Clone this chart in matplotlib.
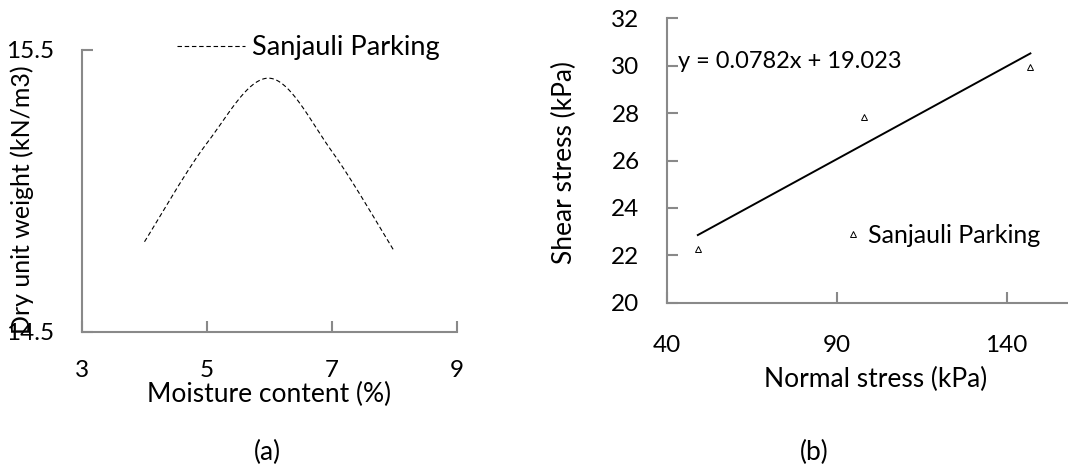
import numpy as np
import matplotlib
matplotlib.use("Agg")
import matplotlib.pyplot as plt

plt.rcParams['font.family'] = ['Lato', 'DejaVu Sans']

# Compaction curve (a)
moisture = [4, 5, 6, 7, 8]
dry_unit_weight = [14.82, 15.17, 15.40, 15.14, 14.785]

# Direct shear results (b)
normal_stress = [49, 98, 147]
shear_stress = [22.28, 27.84, 29.94]
fit_slope = 0.0782
fit_intercept = 19.023

series_name = "Sanjauli Parking"

W, H = 1068, 474
fig = plt.figure(figsize=(W / 100, H / 100), dpi=100)

AX_GREY = "#898989"
TICK_FS = 17.5
LABEL_FS = 19


def smooth_curve(xs, ys, n=40):
    """Bezier smoothing through the points, as spreadsheet 'smoothed lines' do."""
    p = np.column_stack([xs, ys]).astype(float)
    ext = np.vstack([p[0], p, p[-1]])
    out = []
    t = np.linspace(0, 1, n)[:, None]
    for i in range(len(p) - 1):
        p0, p1 = ext[i + 1], ext[i + 2]
        c1 = p0 + (ext[i + 2] - ext[i]) / 6.0
        c2 = p1 - (ext[i + 3] - ext[i + 1]) / 6.0
        seg = ((1 - t) ** 3) * p0 + 3 * ((1 - t) ** 2) * t * c1 + 3 * (1 - t) * t ** 2 * c2 + t ** 3 * p1
        out.append(seg if i == 0 else seg[1:])
    out = np.vstack(out)
    return out[:, 0], out[:, 1]


def style_axes(ax, xpad, ypad):
    for side in ("top", "right"):
        ax.spines[side].set_visible(False)
    for side in ("left", "bottom"):
        ax.spines[side].set_color(AX_GREY)
        ax.spines[side].set_linewidth(1.5)
    ax.tick_params(direction="in", length=8, width=1.5, color=AX_GREY,
                   labelsize=TICK_FS, labelcolor="black")
    ax.tick_params(axis="x", pad=xpad)
    ax.tick_params(axis="y", pad=ypad)


def fig_xy(px, py):
    return px / W, 1 - py / H


# ---- (a) compaction curve ----
axa = fig.add_axes([82 / W, 1 - 332 / H, 375 / W, 282 / H])
style_axes(axa, xpad=20, ypad=20)
cx, cy = smooth_curve(moisture, dry_unit_weight)
axa.plot(cx, cy, color="black", lw=0.8, ls=(0, (4, 2.5)), label=series_name)
axa.set_xlim(3, 9)
axa.set_ylim(14.5, 15.5)
axa.set_xticks([3, 5, 7, 9])
axa.set_yticks([14.5, 15.5])
axa.set_yticklabels(["14.5", "15.5"])
axa.set_xlabel("Moisture content (%)", fontsize=LABEL_FS, va="top")
axa.xaxis.set_label_coords(*fig_xy(269, 382), transform=fig.transFigure)
axa.set_ylabel("Dry unit weight (kN/m3)", fontsize=18)
axa.yaxis.set_label_coords(*fig_xy(34, 200), transform=fig.transFigure)
axa.legend(loc="center left", bbox_to_anchor=fig_xy(177, 48),
           bbox_transform=fig.transFigure, frameon=False, fontsize=19.5,
           borderpad=0, borderaxespad=0, handlelength=2.5, handletextpad=0.26)

# ---- (b) shear strength envelope ----
axb = fig.add_axes([667.3 / W, 1 - 302.7 / H, 407.2 / W, 284.4 / H])
style_axes(axb, xpad=23, ypad=20)
axb.plot(normal_stress, shear_stress, ls="none", marker="^", ms=4.5,
         mfc="white", mec="black", mew=0.7, label=series_name)
fit_x = np.array([normal_stress[0], normal_stress[-1]])
axb.plot(fit_x, fit_slope * fit_x + fit_intercept, color="black", lw=1.4)
axb.set_xlim(40, 160)
axb.set_ylim(20, 32)
axb.set_xticks([40, 90, 140])
axb.set_yticks(np.arange(20, 33, 2))
axb.set_xlabel("Normal stress (kPa)", fontsize=LABEL_FS, va="top")
axb.xaxis.set_label_coords(*fig_xy(876, 367), transform=fig.transFigure)
axb.set_ylabel("Shear stress (kPa)", fontsize=LABEL_FS)
axb.yaxis.set_label_coords(*fig_xy(577, 162), transform=fig.transFigure)
axb.text(*fig_xy(678, 61), f"y = {fit_slope}x + {fit_intercept}",
         transform=fig.transFigure, fontsize=17, va="center", ha="left")
axb.legend(loc="center left", bbox_to_anchor=fig_xy(843, 235),
           bbox_transform=fig.transFigure, frameon=False, fontsize=18,
           borderpad=0, borderaxespad=0, handlelength=0.8, handletextpad=0.2)

fig.text(*fig_xy(267, 452), "(a)", fontsize=LABEL_FS, ha="center", va="center")
fig.text(*fig_xy(814, 452), "(b)", fontsize=LABEL_FS, ha="center", va="center")

fig.savefig("out.png", dpi=100)
